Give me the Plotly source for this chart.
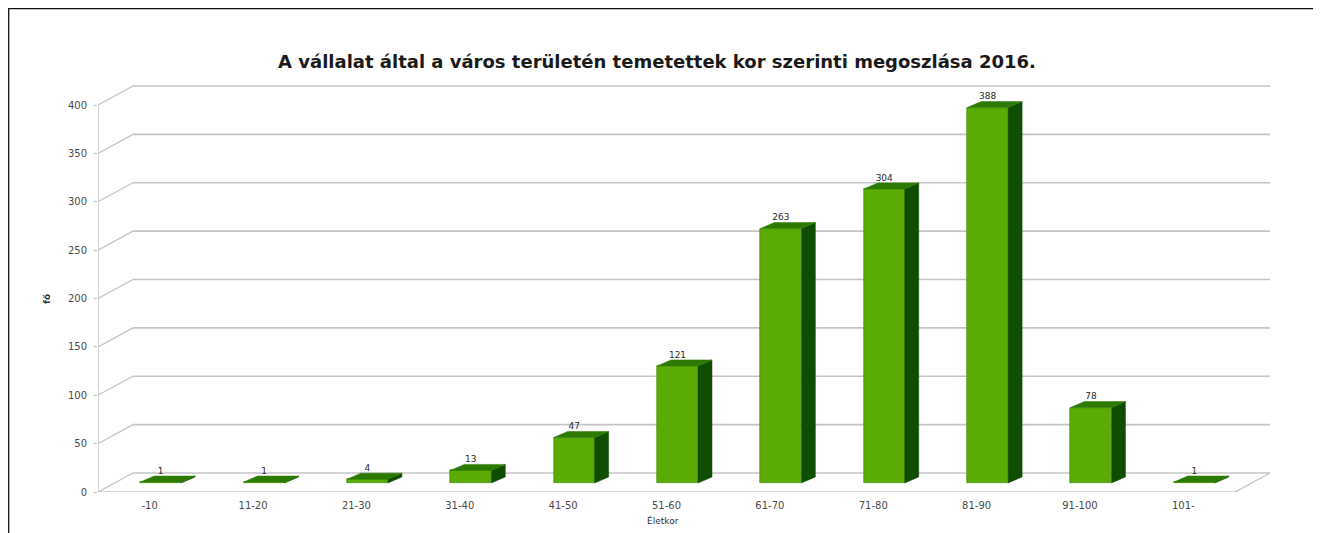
import plotly.graph_objects as go

# ---- data ----
categories = ["-10", "11-20", "21-30", "31-40", "41-50", "51-60",
              "61-70", "71-80", "81-90", "91-100", "101-"]
values = [1, 1, 4, 13, 47, 121, 263, 304, 388, 78, 1]
y_ticks = [0, 50, 100, 150, 200, 250, 300, 350, 400]
title_text = "A vállalat által a város területén temetettek kor szerinti megoszlása 2016."
x_title = "Életkor"
y_title = "fő"

# ---- layout geometry (pixels, relative to the figure; page has an 8px body margin) ----
OFF = 8
W, H = 1321 - OFF, 533 - OFF
L_PX, R_PX = 98 - OFF, 1271 - OFF
T_PX, B_PX = 80 - OFF, 492 - OFF
n = len(categories)
x_lo = -0.5
px_per_x = (1235 - 98) / n
x_hi = x_lo + (R_PX - L_PX) / px_per_x
px_per_y = (492 - 105) / 400.0
y_hi = (B_PX - T_PX) / px_per_y

# perspective offsets (data units)
wall_dx = 35 / px_per_x
wall_dy = 19 / px_per_y
bar_shift = 11 / px_per_x
bar_base = 9 / px_per_y
bar_w = 41 / px_per_x
side_dx = 14 / px_per_x
side_dy = 6 / px_per_y

FRONT = "#5aab04"
SIDE = "#0f4d00"
TOP = "#2c7a02"
GRID = "#c4c4c4"

xs = [i + bar_shift for i in range(n)]

fig = go.Figure()

# front faces
fig.add_trace(go.Bar(
    x=xs, y=values, base=[bar_base] * n, width=bar_w,
    marker=dict(color=FRONT, line=dict(width=0.6, color="#3f8a00")),
    hoverinfo="skip", showlegend=False))

# side and top faces
side_x, side_y, top_x, top_y = [], [], [], []
for c, v in zip(xs, values):
    lft, rgt = c - bar_w / 2, c + bar_w / 2
    b, t = bar_base, bar_base + v
    side_x += [rgt, rgt + side_dx, rgt + side_dx, rgt, rgt, None]
    side_y += [b, b + side_dy, t + side_dy, t, b, None]
    top_x += [lft, lft + side_dx, rgt + side_dx, rgt, lft, None]
    top_y += [t, t + side_dy, t + side_dy, t, t, None]
fig.add_trace(go.Scatter(x=side_x, y=side_y, mode="lines", fill="toself",
                         fillcolor=SIDE, line=dict(width=0.5, color=SIDE),
                         hoverinfo="skip", showlegend=False))
fig.add_trace(go.Scatter(x=top_x, y=top_y, mode="lines", fill="toself",
                         fillcolor=TOP, line=dict(width=0.5, color=TOP),
                         hoverinfo="skip", showlegend=False))

# value labels
fig.add_trace(go.Scatter(
    x=xs, y=[bar_base + v + side_dy for v in values],
    mode="text", text=[str(v) for v in values], textposition="top center",
    textfont=dict(size=9, color="#2a2a2a", family="DejaVu Sans"),
    hoverinfo="skip", showlegend=False, cliponaxis=False))

# pseudo-3D wall / floor (behind the bars)
shapes = []
for tv in y_ticks:
    shapes.append(dict(type="line", xref="x", yref="y", layer="below",
                       x0=x_lo, y0=tv, x1=x_lo + wall_dx, y1=tv + wall_dy,
                       line=dict(color=GRID, width=1.3)))
    shapes.append(dict(type="line", xref="x", yref="y", layer="below",
                       x0=x_lo + wall_dx, y0=tv + wall_dy,
                       x1=x_lo + n + wall_dx, y1=tv + wall_dy,
                       line=dict(color=GRID, width=1.6)))
shapes.append(dict(type="line", xref="x", yref="y", layer="below",
                   x0=x_lo, y0=0, x1=x_lo + n, y1=0,
                   line=dict(color=GRID, width=1.6)))
shapes.append(dict(type="line", xref="x", yref="y", layer="below",
                   x0=x_lo + n, y0=0, x1=x_lo + n + wall_dx, y1=wall_dy,
                   line=dict(color=GRID, width=1.3)))
shapes.append(dict(type="line", xref="x", yref="y", layer="below",
                   x0=x_lo, y0=0, x1=x_lo, y1=max(y_ticks),
                   line=dict(color="#bdbdbd", width=1.3)))
# outer frame
pw, ph = R_PX - L_PX, B_PX - T_PX
def px2paper_x(p): return (p - L_PX) / pw
def px2paper_y(p): return (B_PX - p) / ph
shapes.append(dict(type="rect", xref="paper", yref="paper", layer="above",
                   x0=px2paper_x(0.7), x1=px2paper_x(1316 - OFF),
                   y0=px2paper_y(H + 20), y1=px2paper_y(0.7),
                   line=dict(color="#111111", width=1.3)))

annotations = [
    dict(text=x_title, xref="paper", yref="paper", showarrow=False,
         x=px2paper_x(663 - OFF), y=px2paper_y(520 - OFF),
         xanchor="center", yanchor="middle",
         font=dict(size=9, color="#333333", family="DejaVu Sans")),
    dict(text="<b>" + y_title + "</b>", xref="paper", yref="paper", showarrow=False,
         x=px2paper_x(47 - OFF), y=px2paper_y(299 - OFF), textangle=-90,
         xanchor="center", yanchor="middle",
         font=dict(size=9, color="#333333", family="DejaVu Sans")),
]

fig.update_layout(
    width=W, height=H,
    margin=dict(l=L_PX, r=W - R_PX, t=T_PX, b=H - B_PX, pad=0),
    paper_bgcolor="white", plot_bgcolor="white",
    shapes=shapes, annotations=annotations,
    bargap=0,
    title=dict(text="<b>" + title_text + "</b>", x=(657 - OFF) / W, xref="container",
               xanchor="center", y=1 - (62 - OFF) / H, yanchor="middle",
               font=dict(family="DejaVu Sans", size=18, color="#1a1a1a")),
    xaxis=dict(range=[x_lo, x_hi], tickmode="array",
               tickvals=list(range(n)), ticktext=categories,
               showgrid=False, zeroline=False, showline=False, ticks="",
               ticklabelstandoff=6,
               tickfont=dict(size=10, color="#4a4a4a", family="DejaVu Sans")),
    yaxis=dict(range=[0, y_hi], tickmode="array", tickvals=y_ticks,
               showgrid=False, zeroline=False, showline=False,
               ticks="outside", ticklen=3, tickcolor="#bdbdbd",
               ticklabelstandoff=5,
               tickfont=dict(size=10, color="#4a4a4a", family="DejaVu Sans")),
)

fig.write_html("out.html")
